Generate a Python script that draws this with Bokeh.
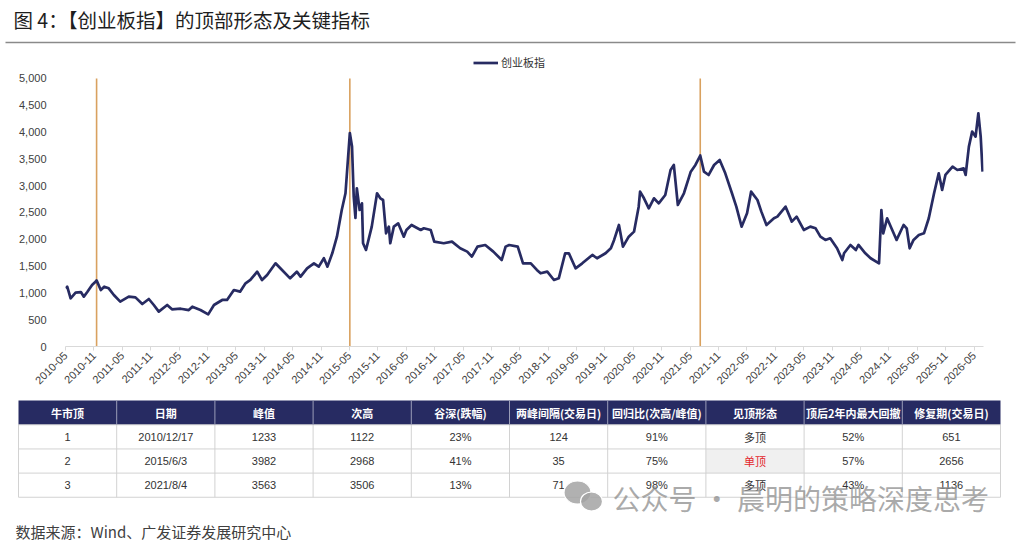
import numpy as np
import pandas as pd
from bokeh.plotting import figure
from bokeh.layouts import column
from bokeh.models import (Range1d, FixedTicker, DatetimeTickFormatter, NumeralTickFormatter,
                          Legend, LegendItem, ColumnDataSource)
from bokeh.core.properties import value
from bokeh.embed import file_html
from bokeh.resources import INLINE

CJK = "Noto Sans CJK SC"
LAT = "Liberation Sans"

# ---------------- data ----------------
title_text = "图 4：【创业板指】的顶部形态及关键指标"
series_name = "创业板指"
source_text = "数据来源：Wind、广发证券发展研究中心"
watermark_text = "公众号 · 晨明的策略深度思考"

index_dates = [
    "2010-06-01", "2010-06-11", "2010-07-03", "2010-08-04", "2010-09-07", "2010-09-26", "2010-10-18",
    "2010-11-18", "2010-12-10", "2010-12-17", "2011-01-13", "2011-02-04", "2011-03-05", "2011-04-07",
    "2011-05-18", "2011-07-12", "2011-08-24", "2011-10-07", "2011-11-18", "2011-12-20", "2012-01-21",
    "2012-03-15", "2012-04-15", "2012-06-10", "2012-08-01", "2012-08-24", "2012-10-15", "2012-12-04",
    "2013-01-10", "2013-03-04", "2013-04-04", "2013-05-18", "2013-06-27", "2013-08-01", "2013-09-01",
    "2013-10-15", "2013-11-15", "2013-12-18", "2014-02-10", "2014-03-13", "2014-05-15", "2014-06-27",
    "2014-07-21", "2014-09-01", "2014-10-15", "2014-11-15", "2014-12-18", "2015-01-10", "2015-02-10",
    "2015-03-12", "2015-04-12", "2015-05-06", "2015-06-03", "2015-06-17", "2015-06-28", "2015-07-09",
    "2015-07-18", "2015-08-05", "2015-08-20", "2015-08-27", "2015-09-15", "2015-10-22", "2015-11-25",
    "2015-12-16", "2016-01-03", "2016-01-22", "2016-02-09", "2016-02-18", "2016-03-12", "2016-04-09",
    "2016-05-15", "2016-06-01", "2016-07-04", "2016-09-01", "2016-09-21", "2016-11-04", "2016-11-27",
    "2017-01-27", "2017-03-21", "2017-05-13", "2017-06-27", "2017-07-27", "2017-09-01", "2017-10-21",
    "2017-12-12", "2018-02-04", "2018-03-01", "2018-03-24", "2018-05-18", "2018-06-21", "2018-08-10",
    "2018-09-18", "2018-10-12", "2018-11-24", "2019-01-06", "2019-02-06", "2019-03-19", "2019-04-12",
    "2019-05-25", "2019-07-07", "2019-09-10", "2019-10-10", "2019-12-04", "2020-01-07", "2020-01-28",
    "2020-02-28", "2020-03-25", "2020-05-01", "2020-06-04", "2020-07-04", "2020-07-13", "2020-08-07",
    "2020-09-07", "2020-10-10", "2020-11-10", "2020-12-22", "2021-01-25", "2021-02-15", "2021-03-13",
    "2021-04-21", "2021-06-04", "2021-07-04", "2021-08-04", "2021-08-28", "2021-09-27", "2021-11-01",
    "2021-12-07", "2022-01-12", "2022-02-24", "2022-03-24", "2022-04-27", "2022-06-01", "2022-06-27",
    "2022-08-07", "2022-09-01", "2022-10-04", "2022-11-21", "2022-12-13", "2023-02-04", "2023-03-16",
    "2023-04-16", "2023-06-01", "2023-07-13", "2023-08-16", "2023-09-16", "2023-10-18", "2023-11-18",
    "2024-01-01", "2024-02-04", "2024-02-15", "2024-03-27", "2024-05-01", "2024-05-18", "2024-07-01",
    "2024-08-04", "2024-09-27", "2024-10-12", "2024-10-24", "2024-11-18", "2024-12-16", "2025-01-18",
    "2025-03-04", "2025-03-24", "2025-04-12", "2025-05-07", "2025-06-10", "2025-07-13", "2025-08-13",
    "2025-09-16", "2025-10-16", "2025-11-07", "2025-11-28", "2026-01-13", "2026-02-13", "2026-03-25",
    "2026-04-07", "2026-04-28", "2026-05-19", "2026-06-10", "2026-06-28", "2026-07-13", "2026-07-25",
]
index_values = [
    1086, 1116, 899, 1004, 1016, 930, 1016,
    1148, 1209, 1233, 1054, 1116, 1085, 961,
    836, 929, 917, 793, 886, 774, 650,
    774, 693, 705, 680, 743, 680, 600,
    774, 868, 868, 1054, 1023, 1179, 1241,
    1396, 1241, 1334, 1552, 1459, 1272, 1396,
    1303, 1459, 1552, 1490, 1646, 1490, 1739,
    2049, 2547, 2859, 3982, 3730, 2795, 2400,
    2952, 2547, 2671, 1926, 1801, 2236, 2859,
    2765, 2733, 2112, 2236, 1926, 2236, 2298,
    2049, 2174, 2267, 2174, 2205, 2174, 1956,
    1926, 1956, 1832, 1770, 1677, 1863, 1894,
    1770, 1614, 1863, 1894, 1863, 1552, 1552,
    1428, 1366, 1397, 1241, 1272, 1739, 1739,
    1459, 1552, 1708, 1646, 1739, 1832, 1988,
    2267, 1863, 2049, 2143, 2609, 2889, 2765,
    2578, 2765, 2671, 2826, 3293, 3387, 2640,
    2859, 3262, 3387, 3563, 3262, 3200, 3386,
    3480, 3231, 2859, 2609, 2236, 2485, 2889,
    2733, 2516, 2267, 2392, 2423, 2609, 2330,
    2423, 2174, 2236, 2205, 2049, 1988, 2018,
    1832, 1614, 1739, 1894, 1801, 1894, 1739,
    1646, 1552, 2547, 2112, 2392, 2205, 1988,
    2267, 2205, 1832, 1988, 2080, 2112, 2392,
    2859, 3231, 2920, 3200, 3355, 3293, 3324,
    3200, 3729, 4009, 3915, 4351, 3915, 3262,
]
peak_dates = ["2010-12-17", "2015-06-03", "2021-08-04"]

x_start = "2010-05-31"
x_end = "2026-07-31"
x_tick_dates = [f"{y}-{md}" for y in range(2010, 2027) for md in ("05-31", "11-30")][:-1]
y_ticks = [0, 500, 1000, 1500, 2000, 2500, 3000, 3500, 4000, 4500, 5000]

table_header = ["牛市顶", "日期", "峰值", "次高", "谷深(跌幅)", "两峰间隔(交易日)",
                "回归比(次高/峰值)", "见顶形态", "顶后2年内最大回撤", "修复期(交易日)"]
col_top = ["1", "2", "3"]
col_date = ["2010/12/17", "2015/6/3", "2021/8/4"]
col_peak = ["1233", "3982", "3563"]
col_second = ["1122", "2968", "3506"]
col_depth = ["23%", "41%", "13%"]
col_gap = ["124", "35", "71"]
col_ratio = ["91%", "75%", "98%"]
col_shape = ["多顶", "单顶", "多顶"]
col_drawdown = ["52%", "57%", "43%"]
col_repair = ["651", "2656", "1136"]
table_columns = [col_top, col_date, col_peak, col_second, col_depth, col_gap,
                 col_ratio, col_shape, col_drawdown, col_repair]

# ---------------- styles ----------------
W = 1024
NAVY = "#272B62"
ORANGE = "#D9A15F"
TXT = "#333333"


def blank(y0, y1):
    f = figure(width=W, height=y1 - y0, x_range=Range1d(0, W), y_range=Range1d(y1, y0),
               output_backend="svg", toolbar_location=None, min_border=0,
               x_axis_location=None, y_axis_location=None, frame_align=False)
    f.grid.visible = False
    f.outline_line_color = None
    return f


# ---------------- header ----------------
h = blank(0, 50)
h.text(x=[13], y=[18.5], text=[title_text], text_font=value(CJK), text_font_size="19.5px",
       text_baseline="middle", text_align="left", text_color="#1e1e1e")
h.segment(x0=[5], y0=[42], x1=[1015], y1=[42], line_color="#8a8a8a", line_width=1.5)

# ---------------- chart ----------------
xs = pd.to_datetime(index_dates)
p = figure(width=W, height=348, x_axis_type="datetime",
           x_range=Range1d(pd.Timestamp(x_start), pd.Timestamp(x_end)),
           y_range=Range1d(0, 5485), output_backend="svg", toolbar_location=None,
           min_border_left=65, min_border_right=41, min_border_top=2, min_border_bottom=52,
           frame_align=False)
p.grid.visible = False
p.outline_line_color = None

peak_x = pd.to_datetime(peak_dates)
p.segment(x0=peak_x, y0=[y_ticks[0]] * len(peak_x), x1=peak_x, y1=[y_ticks[-1]] * len(peak_x),
          line_color=ORANGE, line_width=1.6)
r = p.line(xs, index_values, line_color=NAVY, line_width=2.7, line_join="round")

p.xaxis.ticker = FixedTicker(ticks=[pd.Timestamp(d).value / 1e6 for d in x_tick_dates])
fmt = "%Y-%m"
p.xaxis.formatter = DatetimeTickFormatter(microseconds=fmt, milliseconds=fmt, seconds=fmt, minsec=fmt,
                                          minutes=fmt, hourmin=fmt, hours=fmt, days=fmt,
                                          months=fmt, years=fmt)
p.xaxis.major_label_orientation = np.pi / 4
p.xaxis.axis_line_color = "#D9D9D9"
p.xaxis.major_tick_line_color = "#D9D9D9"
p.xaxis.major_tick_out = 4
p.xaxis.major_tick_in = 0
p.xaxis.minor_tick_line_color = None
p.xaxis.major_label_standoff = 3

p.yaxis.ticker = FixedTicker(ticks=y_ticks)
p.yaxis.formatter = NumeralTickFormatter(format="0,0")
p.yaxis.axis_line_color = None
p.yaxis.major_tick_line_color = None
p.yaxis.minor_tick_line_color = None
p.yaxis.major_label_standoff = 13

for ax in (p.xaxis[0], p.yaxis[0]):
    ax.major_label_text_font = LAT
    ax.major_label_text_font_size = "11px"
    ax.major_label_text_color = "#404040"

legend = Legend(items=[LegendItem(label=series_name, renderers=[r])], location=(408, 276),
                orientation="horizontal", padding=0, margin=0, spacing=0, label_standoff=3,
                glyph_width=25, glyph_height=13, label_height=13,
                border_line_color=None, background_fill_alpha=0,
                label_text_font=CJK, label_text_font_size="11px", label_text_color=TXT)
p.add_layout(legend)

# ---------------- table ----------------
t = blank(398, 540)
n_cols = len(table_header)
x_left, x_right = 18, 1000
cw = (x_right - x_left) / n_cols
col_edges = [x_left + cw * i for i in range(n_cols + 1)]
col_centers = [x_left + cw * (i + 0.5) for i in range(n_cols)]
head_top, head_bot = 400, 424.3
rh = 24.15
row_edges = [head_bot + rh * i for i in range(len(col_top) + 1)]
row_centers = [head_bot + rh * (i + 0.5) for i in range(len(col_top))]

t.quad(left=[x_left], right=[x_right], top=[head_top], bottom=[head_bot], fill_color=NAVY, line_color=None)
# highlight single-top cell
hi_c = table_columns.index(col_shape)
hi_r = col_shape.index("单顶")
t.quad(left=[col_edges[hi_c]], right=[col_edges[hi_c + 1]], top=[row_edges[hi_r]],
       bottom=[row_edges[hi_r + 1]], fill_color="#F0F0F0", line_color=None)

# grid lines
t.segment(x0=[x_left] * len(row_edges), y0=row_edges, x1=[x_right] * len(row_edges), y1=row_edges,
          line_color="#D2D2D2", line_width=1)
t.segment(x0=col_edges, y0=[head_bot] * len(col_edges), x1=col_edges, y1=[row_edges[-1]] * len(col_edges),
          line_color="#D2D2D2", line_width=1)
t.segment(x0=col_edges[1:-1], y0=[head_top] * (n_cols - 1), x1=col_edges[1:-1], y1=[head_bot] * (n_cols - 1),
          line_color="#9A9DB8", line_width=1)

t.text(x=col_centers, y=[(head_top + head_bot) / 2] * n_cols, text=table_header,
       text_font=value(CJK), text_font_size="11px", text_font_style="bold", text_color="white",
       text_align="center", text_baseline="middle")

cx, cy, ct, cf, cc = [], [], [], [], []
for ci, col in enumerate(table_columns):
    for ri, val in enumerate(col):
        cx.append(col_centers[ci])
        cy.append(row_centers[ri])
        ct.append(val)
        is_cjk = any(ord(ch) > 0x2E80 for ch in val)
        cf.append(CJK if is_cjk else LAT)
        cc.append("#E3262B" if val == "单顶" else TXT)
src = ColumnDataSource(dict(x=cx, y=cy, text=ct, font=cf, color=cc))
t.text(x="x", y="y", text="text", text_font="font", text_color="color", source=src,
       text_font_size="11px", text_align="center", text_baseline="middle")

# watermark
t.ellipse(x=[577, 591], y=[492, 501], width=[27, 22], height=[23, 19],
          fill_color="#A3A3A3", line_color="white", line_width=1.2, fill_alpha=0.85)
t.text(x=[612], y=[497], text=[watermark_text], text_font=value(CJK), text_font_size="28px",
       text_color="#8E8E8E", text_alpha=0.75, text_align="left", text_baseline="middle")

# source
t.text(x=[15], y=[530.5], text=[source_text], text_font=value(CJK), text_font_size="15px",
       text_color="#404040", text_align="left", text_baseline="middle")

layout = column(h, p, t, spacing=0)
open("out.html", "w").write(file_html(layout, INLINE))
